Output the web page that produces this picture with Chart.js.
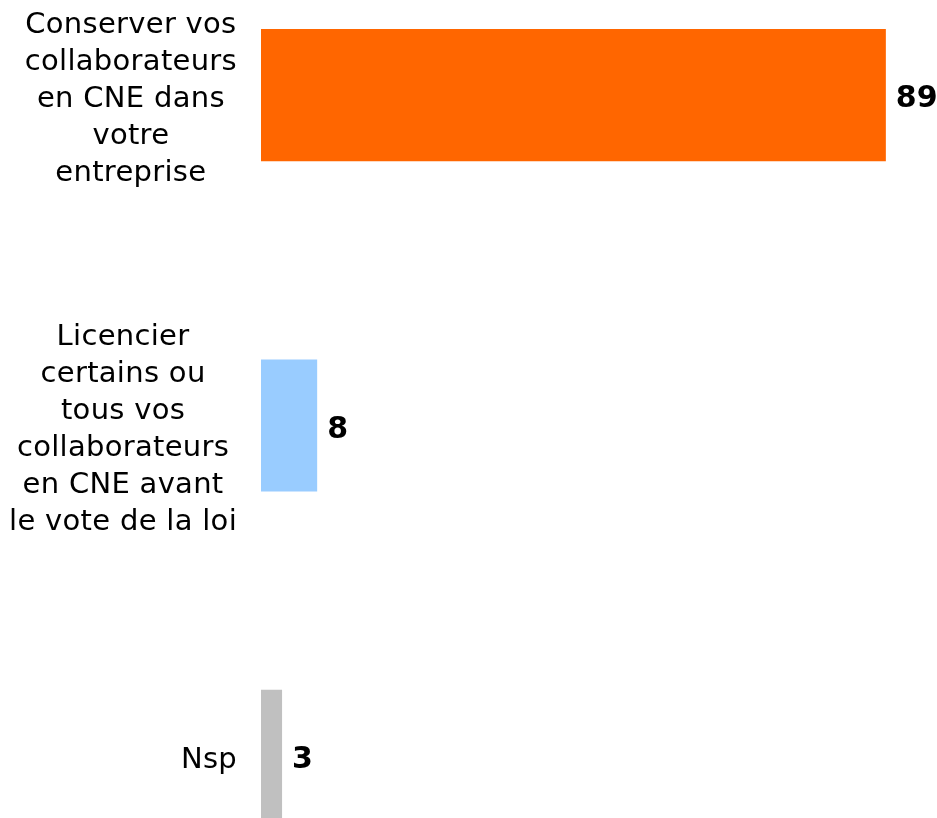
<!DOCTYPE html>
<html>
<head>
<meta charset="utf-8">
<script src="https://cdn.jsdelivr.net/npm/chart.js@4.4.0/dist/chart.umd.min.js"></script>
<style>
  html, body { margin: 0; padding: 0; background: #fff; overflow: hidden; }
  #wrap { position: absolute; left: 0; top: -70px; width: 937px; height: 991px; }
</style>
</head>
<body>
<div id="wrap"><canvas id="chart"></canvas></div>
<script>
// categories (one entry per line of the label)
const categories = [
  ['Conserver vos', 'collaborateurs', 'en CNE dans', 'votre', 'entreprise'],
  ['Licencier', 'certains ou', 'tous vos', 'collaborateurs', 'en CNE avant', 'le vote de la loi'],
  ['Nsp']
];
const values = [89, 8, 3];
const barColors = ['#FF6600', '#99CCFF', '#C0C0C0'];

// draws the category labels on the left and the values at the end of the bars
const labelPlugin = {
  id: 'labels',
  afterDatasetsDraw(chart) {
    const ctx = chart.ctx;
    const meta = chart.getDatasetMeta(0);
    ctx.save();
    ctx.fillStyle = '#000';
    meta.data.forEach((bar, i) => {
      // value
      ctx.font = 'bold 30px "DejaVu Sans"';
      ctx.letterSpacing = '0px';
      ctx.textAlign = 'left';
      ctx.textBaseline = 'alphabetic';
      ctx.fillText(String(values[i]), bar.x + 10, bar.y + 12);

      // category, lines centred inside a block that ends at x=237
      ctx.font = '29px "DejaVu Sans"';
      ctx.letterSpacing = '0.3px';
      ctx.textAlign = 'center';
      const lines = categories[i];
      const maxW = Math.max(...lines.map(l => ctx.measureText(l).width));
      const cx = 237 - maxW / 2;
      const lh = 37;
      lines.forEach((line, j) => {
        const y = bar.y + (j - (lines.length - 1) / 2) * lh + 12;
        ctx.fillText(line, cx, y);
      });
    });
    ctx.restore();
  }
};

new Chart(document.getElementById('chart').getContext('2d'), {
  type: 'bar',
  data: {
    labels: categories.map(l => l.join(' ')),
    datasets: [{
      data: values,
      backgroundColor: barColors,
      borderWidth: 0,
      categoryPercentage: 0.4,
      barPercentage: 1.0
    }]
  },
  options: {
    indexAxis: 'y',
    responsive: true,
    maintainAspectRatio: false,
    animation: false,
    layout: { padding: { left: 261, right: 2, top: 0, bottom: 0 } },
    plugins: { legend: { display: false }, tooltip: { enabled: false } },
    scales: {
      x: { display: false, min: 0, max: 96 },
      y: { display: false }
    }
  },
  plugins: [labelPlugin]
});
</script>
</body>
</html>
